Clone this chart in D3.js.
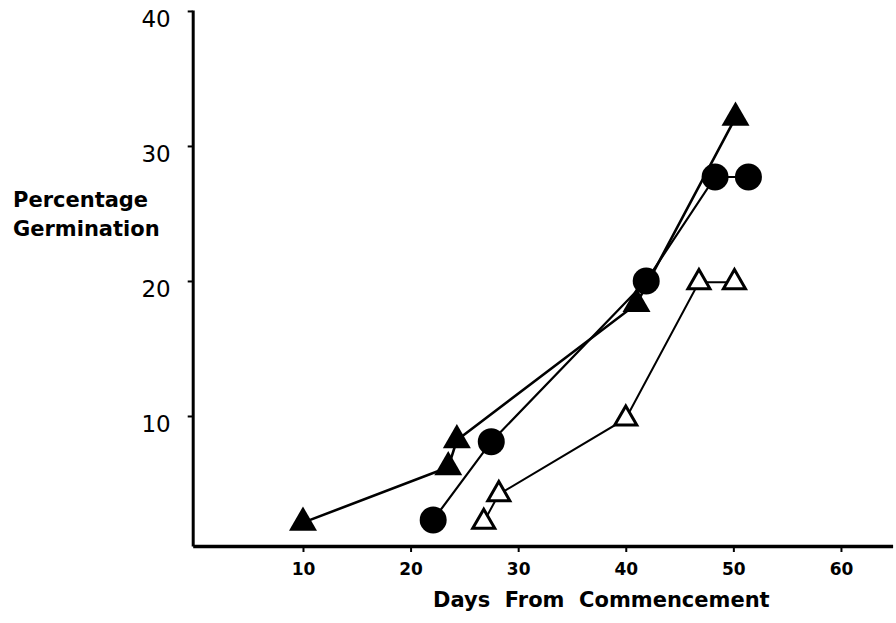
<!DOCTYPE html>
<html>
<head>
<meta charset="utf-8">
<script src="https://cdn.jsdelivr.net/npm/d3@7"></script>
<style>
  body { margin: 0; background: #fff; }
  .tick text { fill: #000; }
</style>
</head>
<body>
<div class="chart"></div>
<script>
// values
var solidTriDays = [10, 23.5, 24.3, 41, 50.2];
var solidTriPct  = [2.1, 6.2, 8.2, 18.3, 32.1];

var circleDays = [22.1, 27.5, 41.9, 48.3, 51.4];
var circlePct  = [2.3, 8.1, 20.0, 27.7, 27.7];

var openTriDays = [26.8, 28.2, 40.0, 46.8, 50.1];
var openTriPct  = [2.15, 4.2, 9.8, 19.9, 19.9];

var xTicks = [10, 20, 30, 40, 50, 60];
var yTicks = [10, 20, 30, 40];

var svgWidth = 896;
var svgHeight = 623;

var svg = d3.select(".chart")
  .append("svg")
  .attr("width", svgWidth)
  .attr("height", svgHeight)
  .style("display", "block");

var xScale = d3.scaleLinear().domain([-0.25, 64.8]).range([192.7, 892.6]);
var yScale = d3.scaleLinear().domain([0.37, 40.07]).range([546, 10]);

function pairs(xs, ys) {
  return xs.map(function(d, i) { return { x: d, y: ys[i] }; });
}

// x axis
var bottomAxis = d3.axisBottom(xScale)
  .tickValues(xTicks)
  .tickSize(6)
  .tickSizeOuter(0)
  .tickPadding(11)
  .tickFormat(d3.format("d"));

var gx = svg.append("g")
  .attr("transform", "translate(0," + yScale.range()[0] + ")")
  .call(bottomAxis);
gx.select(".domain").attr("stroke", "#000").attr("stroke-width", 3.5);
gx.selectAll(".tick line").attr("stroke", "#000").attr("stroke-width", 2);
gx.selectAll(".tick text")
  .attr("font-family", "DejaVu Sans")
  .attr("font-weight", "bold")
  .attr("font-size", 17);

// y axis
var leftAxis = d3.axisLeft(yScale)
  .tickValues(yTicks)
  .tickSize(5)
  .tickSizeOuter(0)
  .tickPadding(17)
  .tickFormat(d3.format("d"));

var gy = svg.append("g")
  .attr("transform", "translate(" + xScale.range()[0] + ",0)")
  .call(leftAxis);
gy.select(".domain").attr("stroke", "#000").attr("stroke-width", 3);
gy.selectAll(".tick line").attr("stroke", "#000").attr("stroke-width", 2);
// labels sit a little below their ticks in the scan
gy.selectAll(".tick text")
  .attr("font-family", "DejaVu Sans")
  .attr("font-size", 23)
  .attr("y", 8);

// axis titles
var yTitle = svg.append("text")
  .attr("font-family", "DejaVu Sans")
  .attr("font-weight", "bold")
  .attr("font-size", 21);
yTitle.append("tspan").attr("x", 13).attr("y", 207).text("Percentage");
yTitle.append("tspan").attr("x", 13).attr("y", 236).text("Germination");

svg.append("text")
  .attr("x", 433)
  .attr("y", 607)
  .attr("font-family", "DejaVu Sans")
  .attr("font-weight", "bold")
  .attr("font-size", 21)
  .style("white-space", "pre")
  .text("Days  From  Commencement");

// series
var line = d3.line()
  .x(function(d) { return xScale(d.x); })
  .y(function(d) { return yScale(d.y); });

var series = [
  { data: pairs(solidTriDays, solidTriPct), shape: "tri", fill: "#000", lw: 2.6 },
  { data: pairs(circleDays, circlePct), shape: "circle", fill: "#000", lw: 2.2 },
  { data: pairs(openTriDays, openTriPct), shape: "tri", fill: "#fff", lw: 2 }
];

series.forEach(function(s) {
  svg.append("path")
    .datum(s.data)
    .attr("d", line)
    .attr("fill", "none")
    .attr("stroke", "#000")
    .attr("stroke-width", s.lw);
});

series.forEach(function(s) {
  var g = svg.append("g");
  if (s.shape === "circle") {
    g.selectAll("circle")
      .data(s.data)
      .enter().append("circle")
      .attr("cx", function(d) { return xScale(d.x); })
      .attr("cy", function(d) { return yScale(d.y); })
      .attr("r", 13.5)
      .attr("fill", "#000");
  } else {
    var solid = s.fill === "#000";
    var side = solid ? 28 : 22;
    var sym = d3.symbol().type(d3.symbolTriangle).size(Math.sqrt(3) / 4 * side * side);
    g.selectAll("path")
      .data(s.data)
      .enter().append("path")
      .attr("d", sym)
      .attr("transform", function(d) { return "translate(" + xScale(d.x) + "," + yScale(d.y) + ")"; })
      .attr("fill", s.fill)
      .attr("stroke", "#000")
      .attr("stroke-width", solid ? 0 : 3)
      .attr("stroke-linejoin", "miter");
  }
});
</script>
</body>
</html>
